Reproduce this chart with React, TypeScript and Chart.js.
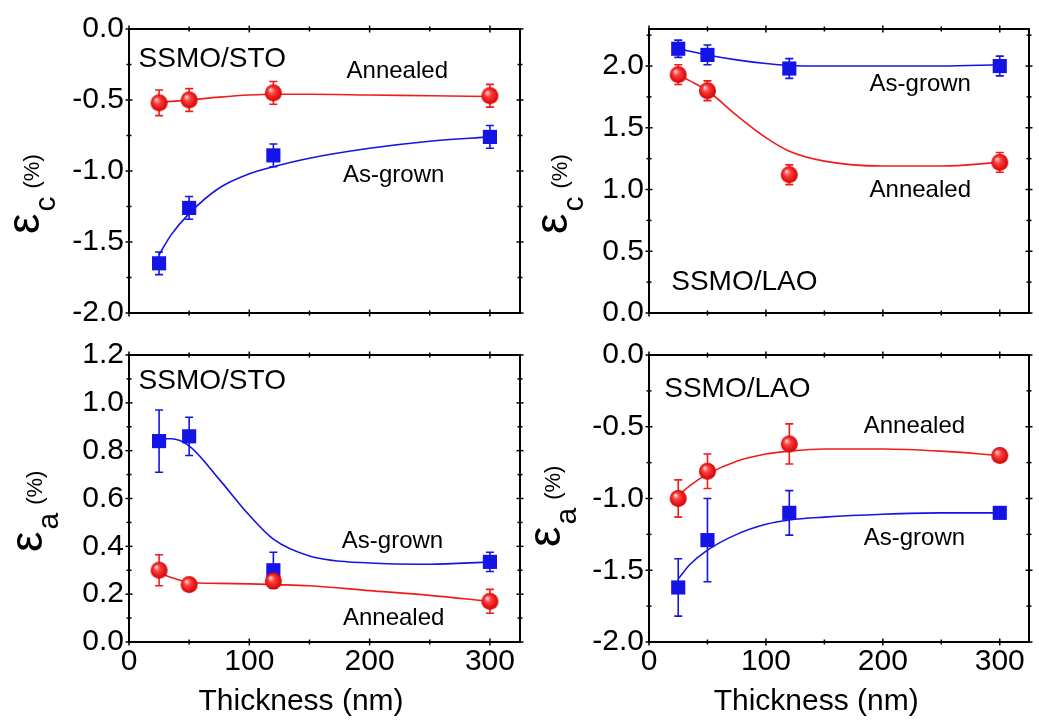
import React, { useEffect, useRef } from "react";
import { Chart, registerables } from "chart.js";

Chart.register(...registerables);

const FONT = '"Liberation Sans", Arial, Helvetica, sans-serif';
const RED = "#f01c1c";
const BLUE = "#1414e6";

// Film thickness (nm) of the measured samples
const thickness = [25, 50, 120, 300];
// Thickness values at which the guide-to-the-eye curves were read
const fitThickness = [25, 35, 50, 75, 100, 120, 150, 200, 250, 300];

// (a) SSMO/STO, epsilon_c (%)
const stoCAnnealed = [-0.52, -0.5, -0.45, -0.47];
const stoCAnnealedErr = [0.09, 0.08, 0.08, 0.08];
const stoCAsGrown = [-1.65, -1.26, -0.89, -0.76];
const stoCAsGrownErr = [0.08, 0.08, 0.08, 0.08];
const stoCAnnealedFit = [-0.52, -0.51, -0.5, -0.48, -0.465, -0.46, -0.46, -0.465, -0.47, -0.475];
const stoCAsGrownFit = [-1.59, -1.45, -1.3, -1.12, -1.02, -0.97, -0.91, -0.84, -0.79, -0.76];

// (b) SSMO/LAO, epsilon_c (%)
const laoCAsGrown = [2.14, 2.09, 1.98, 2.0];
const laoCAsGrownErr = [0.07, 0.08, 0.08, 0.08];
const laoCAnnealed = [1.93, 1.8, 1.12, 1.22];
const laoCAnnealedErr = [0.08, 0.08, 0.08, 0.08];
const laoCAsGrownFit = [2.14, 2.12, 2.09, 2.05, 2.02, 2.005, 2.0, 2.0, 2.0, 2.01];
const laoCAnnealedFit = [1.93, 1.88, 1.8, 1.6, 1.42, 1.31, 1.23, 1.19, 1.19, 1.22];

// (c) SSMO/STO, epsilon_a (%)
const stoAAsGrown = [0.84, 0.86, 0.3, 0.335];
const stoAAsGrownErr = [0.13, 0.08, 0.075, 0.04];
const stoAAnnealed = [0.3, 0.24, 0.255, 0.17];
const stoAAnnealedErr = [0.065, 0.015, 0.03, 0.05];
const stoAAsGrownFit = [0.85, 0.85, 0.82, 0.68, 0.53, 0.43, 0.36, 0.33, 0.325, 0.335];
const stoAAnnealedFit = [0.29, 0.27, 0.25, 0.245, 0.243, 0.24, 0.235, 0.215, 0.195, 0.17];

// (d) SSMO/LAO, epsilon_a (%)
const laoAAnnealed = [-1.0, -0.81, -0.62, -0.7];
const laoAAnnealedErr = [0.13, 0.12, 0.14, 0];
const laoAAsGrown = [-1.62, -1.29, -1.1, -1.1];
const laoAAsGrownErr = [0.2, 0.29, 0.155, 0];
const laoAAnnealedFit = [-0.98, -0.91, -0.83, -0.74, -0.69, -0.67, -0.655, -0.655, -0.67, -0.7];
const laoAAsGrownFit = [-1.56, -1.46, -1.36, -1.25, -1.18, -1.15, -1.13, -1.11, -1.1, -1.1];

const xAxisTitle = "Thickness (nm)";
const seriesAnnealed = "Annealed";
const seriesAsGrown = "As-grown";

type Series = { values: number[]; errors: number[]; fit: number[]; color: string; marker: "sphere" | "square" };
type Note = { text: string; x: number; y: number; size: number; align: CanvasTextAlign };
type Panel = {
  key: string;
  left: number; top: number; w: number; h: number;
  pad: { left: number; top: number; right: number; bottom: number };
  yWidth: number; xHeight: number;
  yMin: number; yMax: number; yStep: number;
  showX: boolean; sub: string; titleDx: number; titleDy: number;
  series: Series[]; notes: Note[];
};

const panels: Panel[] = [
  {
    key: "a", left: 0, top: 0, w: 530, h: 336,
    pad: { left: 0, top: 29, right: 10, bottom: 0 }, yWidth: 129, xHeight: 22,
    yMin: -2, yMax: 0, yStep: 0.5, showX: false, sub: "c", titleDx: 90, titleDy: 79,
    series: [
      { values: stoCAnnealed, errors: stoCAnnealedErr, fit: stoCAnnealedFit, color: RED, marker: "sphere" },
      { values: stoCAsGrown, errors: stoCAsGrownErr, fit: stoCAsGrownFit, color: BLUE, marker: "square" },
    ],
    notes: [
      { text: "SSMO/STO", x: 8, y: -0.21, size: 28, align: "left" },
      { text: seriesAnnealed, x: 223, y: -0.3, size: 24, align: "center" },
      { text: seriesAsGrown, x: 220, y: -1.03, size: 24, align: "center" },
    ],
  },
  {
    key: "b", left: 520, top: 0, w: 519, h: 336,
    pad: { left: 0, top: 29, right: 1, bottom: 0 }, yWidth: 129, xHeight: 22,
    yMin: 0, yMax: 2.3, yStep: 0.5, showX: false, sub: "c", titleDx: 82, titleDy: 79,
    series: [
      { values: laoCAnnealed, errors: laoCAnnealedErr, fit: laoCAnnealedFit, color: RED, marker: "sphere" },
      { values: laoCAsGrown, errors: laoCAsGrownErr, fit: laoCAsGrownFit, color: BLUE, marker: "square" },
    ],
    notes: [
      { text: seriesAsGrown, x: 232, y: 1.85, size: 24, align: "center" },
      { text: seriesAnnealed, x: 232, y: 0.99, size: 24, align: "center" },
      { text: "SSMO/LAO", x: 19, y: 0.25, size: 28, align: "left" },
    ],
  },
  {
    key: "c", left: 0, top: 330, w: 530, h: 390,
    pad: { left: 0, top: 25, right: 10, bottom: 0 }, yWidth: 129, xHeight: 78,
    yMin: 0, yMax: 1.2, yStep: 0.2, showX: true, sub: "a", titleDx: 87, titleDy: 90,
    series: [
      { values: stoAAnnealed, errors: stoAAnnealedErr, fit: stoAAnnealedFit, color: RED, marker: "sphere" },
      { values: stoAAsGrown, errors: stoAAsGrownErr, fit: stoAAsGrownFit, color: BLUE, marker: "square" },
    ],
    notes: [
      { text: "SSMO/STO", x: 8, y: 1.09, size: 28, align: "left" },
      { text: seriesAsGrown, x: 219, y: 0.42, size: 24, align: "center" },
      { text: seriesAnnealed, x: 220, y: 0.1, size: 24, align: "center" },
    ],
  },
  {
    key: "d", left: 520, top: 330, w: 519, h: 390,
    pad: { left: 0, top: 25, right: 1, bottom: 0 }, yWidth: 129, xHeight: 78,
    yMin: -2, yMax: 0, yStep: 0.5, showX: true, sub: "a", titleDx: 89, titleDy: 95,
    series: [
      { values: laoAAnnealed, errors: laoAAnnealedErr, fit: laoAAnnealedFit, color: RED, marker: "sphere" },
      { values: laoAAsGrown, errors: laoAAsGrownErr, fit: laoAAsGrownFit, color: BLUE, marker: "square" },
    ],
    notes: [
      { text: "SSMO/LAO", x: 13, y: -0.24, size: 28, align: "left" },
      { text: seriesAnnealed, x: 227, y: -0.5, size: 24, align: "center" },
      { text: seriesAsGrown, x: 227, y: -1.28, size: 24, align: "center" },
    ],
  },
];

function makeSphere(r: number): HTMLCanvasElement {
  const c = document.createElement("canvas");
  const s = Math.ceil(r * 2 + 2);
  c.width = s;
  c.height = s;
  const g = c.getContext("2d")!;
  const cx = s / 2;
  const cy = s / 2;
  const grad = g.createRadialGradient(cx - r * 0.35, cy - r * 0.4, r * 0.05, cx, cy, r);
  grad.addColorStop(0, "#ffd6d6");
  grad.addColorStop(0.35, "#ff4040");
  grad.addColorStop(1, "#d40000");
  g.fillStyle = grad;
  g.beginPath();
  g.arc(cx, cy, r, 0, Math.PI * 2);
  g.fill();
  return c;
}

function makePlugin(p: Panel) {
  return {
    id: "decor_" + p.key,
    beforeDatasetsDraw(chart: any) {
      const { ctx } = chart;
      const xs = chart.scales.x;
      const ys = chart.scales.y;
      chart.data.datasets.forEach((ds: any) => {
        if (!ds.errors) return;
        ctx.save();
        ctx.strokeStyle = ds.errColor;
        ctx.lineWidth = 1.6;
        ds.data.forEach((pt: any, i: number) => {
          const e = ds.errors[i];
          if (!e) return;
          const x = xs.getPixelForValue(pt.x);
          const y1 = ys.getPixelForValue(pt.y + e);
          const y2 = ys.getPixelForValue(pt.y - e);
          ctx.beginPath();
          ctx.moveTo(x, y1);
          ctx.lineTo(x, y2);
          ctx.moveTo(x - 4, y1);
          ctx.lineTo(x + 4, y1);
          ctx.moveTo(x - 4, y2);
          ctx.lineTo(x + 4, y2);
          ctx.stroke();
        });
        ctx.restore();
      });
    },
    afterDraw(chart: any) {
      const { ctx, chartArea: a } = chart;
      const xs = chart.scales.x;
      const ys = chart.scales.y;
      ctx.save();
      ctx.strokeStyle = "#000";
      ctx.lineWidth = 2;
      ctx.strokeRect(a.left, a.top, a.right - a.left, a.bottom - a.top);

      const tickSet = (scale: any) => {
        const majors: number[] = scale.ticks.map((t: any) => t.value);
        const step = majors.length > 1 ? majors[1] - majors[0] : 1;
        const minors: number[] = [];
        const cand = [majors[0] - step / 2, ...majors.map((m) => m + step / 2)];
        cand.forEach((m) => {
          if (m > scale.min + 1e-9 && m < scale.max - 1e-9) minors.push(m);
        });
        return { majors, minors };
      };
      ctx.lineWidth = 1.5;
      const xt = tickSet(xs);
      const yt = tickSet(ys);
      const drawX = (vals: number[], len: number) => {
        vals.forEach((v) => {
          const px = xs.getPixelForValue(v);
          [a.top, a.bottom].forEach((y) => {
            ctx.beginPath();
            ctx.moveTo(px, y - len);
            ctx.lineTo(px, y + len);
            ctx.stroke();
          });
        });
      };
      const drawY = (vals: number[], len: number) => {
        vals.forEach((v) => {
          const py = ys.getPixelForValue(v);
          [a.left, a.right].forEach((x) => {
            ctx.beginPath();
            ctx.moveTo(x - len, py);
            ctx.lineTo(x + len, py);
            ctx.stroke();
          });
        });
      };
      drawX(xt.majors, 3.5);
      drawX(xt.minors, 2.5);
      drawY(yt.majors, 3.5);
      drawY(yt.minors, 2.5);

      // annotations
      ctx.fillStyle = "#000";
      ctx.textBaseline = "middle";
      p.notes.forEach((n) => {
        ctx.font = `${n.size}px ${FONT}`;
        ctx.textAlign = n.align;
        ctx.fillText(n.text, xs.getPixelForValue(n.x), ys.getPixelForValue(n.y));
      });

      // y-axis title: epsilon with subscript and (%)
      ctx.save();
      ctx.translate(a.left - p.titleDx, a.bottom - p.titleDy);
      ctx.rotate(-Math.PI / 2);
      ctx.textAlign = "left";
      ctx.textBaseline = "alphabetic";
      ctx.font = `46px ${FONT}`;
      ctx.fillText("ε", 0, 0);
      const w1 = ctx.measureText("ε").width;
      ctx.font = `30px ${FONT}`;
      ctx.fillText(p.sub, w1 + 2, 16);
      const w2 = ctx.measureText(p.sub).width;
      ctx.font = `22px ${FONT}`;
      ctx.fillText("(%)", w1 + 2 + w2 + 8, 0);
      ctx.restore();

      // x-axis title
      if (p.showX) {
        ctx.font = `30px ${FONT}`;
        ctx.textAlign = "center";
        ctx.textBaseline = "middle";
        ctx.fillText(xAxisTitle, xs.getPixelForValue(143), a.bottom + 59.5);
      }
      ctx.restore();
    },
  };
}

function buildConfig(p: Panel): any {
  const sphere = makeSphere(8.5);
  const datasets: any[] = [];
  p.series.forEach((s) => {
    datasets.push({
      type: "scatter",
      data: thickness.map((x, i) => ({ x, y: s.values[i] })),
      pointStyle: s.marker === "sphere" ? sphere : "rect",
      pointRadius: s.marker === "sphere" ? 8.5 : 10,
      backgroundColor: s.color,
      borderColor: s.color,
      borderWidth: 0,
      order: 0,
      errors: s.errors,
      errColor: s.color,
    });
  });
  p.series.forEach((s) => {
    datasets.push({
      type: "line",
      data: fitThickness.map((x, i) => ({ x, y: s.fit[i] })),
      borderColor: s.color,
      borderWidth: 1.6,
      pointRadius: 0,
      cubicInterpolationMode: "monotone",
      fill: false,
      order: 1,
    });
  });
  const tickFont = { family: FONT, size: 30 };
  return {
    type: "scatter",
    data: { datasets },
    plugins: [makePlugin(p)],
    options: {
      responsive: false,
      animation: false,
      devicePixelRatio: 1,
      events: [],
      layout: { padding: p.pad },
      plugins: { legend: { display: false }, tooltip: { enabled: false } },
      scales: {
        x: {
          type: "linear",
          min: 0,
          max: 325,
          afterFit: (s: any) => {
            s.height = p.xHeight;
          },
          border: { display: false },
          grid: { display: false, drawTicks: false },
          ticks: {
            display: p.showX,
            stepSize: 100,
            includeBounds: false,
            padding: 2,
            color: "#000",
            font: tickFont,
            maxRotation: 0,
            autoSkip: false,
            callback: (v: any) => String(v),
          },
        },
        y: {
          type: "linear",
          min: p.yMin,
          max: p.yMax,
          afterFit: (s: any) => {
            s.width = p.yWidth;
          },
          border: { display: false },
          grid: { display: false, drawTicks: false },
          ticks: {
            stepSize: p.yStep,
            includeBounds: false,
            padding: 5,
            color: "#000",
            font: tickFont,
            autoSkip: false,
            callback: (v: any) => Number(v).toFixed(1),
          },
        },
      },
    },
  };
}

function PanelChart({ p }: { p: Panel }) {
  const ref = useRef<HTMLCanvasElement | null>(null);
  useEffect(() => {
    if (!ref.current) return;
    const chart = new Chart(ref.current, buildConfig(p));
    return () => chart.destroy();
  }, [p]);
  return (
    <canvas
      ref={ref}
      width={p.w}
      height={p.h}
      style={{ position: "absolute", left: p.left, top: p.top, width: p.w, height: p.h }}
    />
  );
}

export default function App() {
  return (
    <div style={{ position: "absolute", left: 0, top: 0, width: 1039, height: 720, background: "#fff" }}>
      {panels.map((p) => (
        <PanelChart key={p.key} p={p} />
      ))}
    </div>
  );
}
